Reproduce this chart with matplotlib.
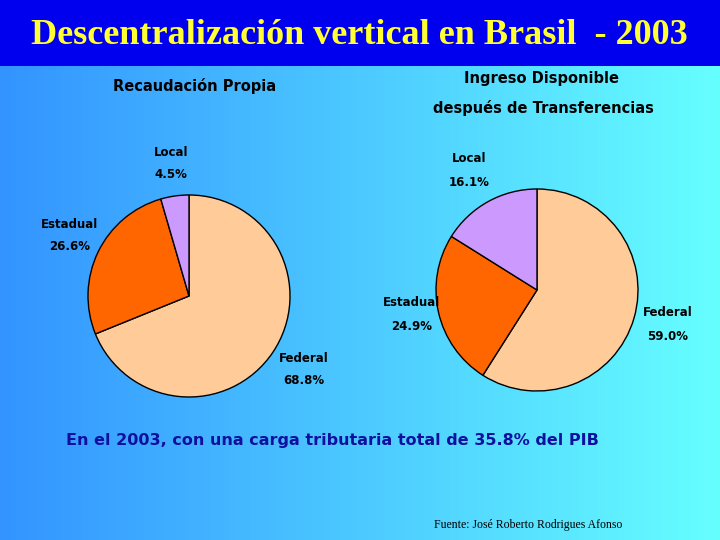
import numpy as np
import matplotlib
matplotlib.use("Agg")
import matplotlib.pyplot as plt
from matplotlib.patches import Rectangle

# ---- data ----
categories = ["Federal", "Estadual", "Local"]
propia_values = [68.8, 26.6, 4.5]
disponible_values = [59.0, 24.9, 16.1]
slice_colors = ["#FFCC99", "#FF6600", "#CC99FF"]
title = "Descentralización vertical en Brasil  - 2003"
subtitle_left = "Recaudación Propia"
subtitle_right = ["Ingreso Disponible", "después de Transferencias"]
note = "En el 2003, con una carga tributaria total de 35.8% del PIB"
source = "Fuente: José Roberto Rodrigues Afonso"

W, H = 720, 540
fig = plt.figure(figsize=(7.2, 5.4), dpi=100)
ax = fig.add_axes([0, 0, 1, 1])

def Y(y):
    return H - y

# background gradient
grad = np.linspace(0, 1, 256)
c0 = np.array([0.20, 0.58, 1.0])
c1 = np.array([0.40, 1.0, 1.0])
img = c0[None, None, :] + (c1 - c0)[None, None, :] * grad[None, :, None]
img = np.repeat(img, 2, axis=0)
ax.imshow(img, extent=(0, W, 0, H), aspect="auto", zorder=0)

# title bar
ax.add_patch(Rectangle((0, Y(66)), W, 66, facecolor="#0000EE", edgecolor="none", zorder=1))
ax.text(359, Y(35), title, ha="center", va="center", color="#FFFF33",
        fontsize=26, fontweight="bold", family="Liberation Serif", zorder=2)

wp = dict(edgecolor="black", linewidth=1)
ax.pie(propia_values, colors=slice_colors, startangle=90, counterclock=False,
       center=(189, Y(296)), radius=101, wedgeprops=wp)
ax.pie(disponible_values, colors=slice_colors, startangle=90, counterclock=False,
       center=(537, Y(290)), radius=101, wedgeprops=wp)

lab_kw = dict(ha="center", va="center", color="black", fontsize=8.5,
              fontweight="bold", family="DejaVu Sans", zorder=3)
left_pos = {"Federal": (304, 359), "Estadual": (70, 224), "Local": (171, 152)}
right_pos = {"Federal": (668, 313), "Estadual": (412, 302), "Local": (469, 158)}
for cat, v in zip(categories, propia_values):
    x, y = left_pos[cat]
    ax.text(x, Y(y), cat, **lab_kw)
    ax.text(x, Y(y + 22), f"{v:.1f}%", **lab_kw)
for cat, v in zip(categories, disponible_values):
    x, y = right_pos[cat]
    ax.text(x, Y(y), cat, **lab_kw)
    ax.text(x, Y(y + 24), f"{v:.1f}%", **lab_kw)

sub_kw = dict(ha="center", va="center", color="black", fontsize=10.5,
              fontweight="bold", family="DejaVu Sans", zorder=3)
ax.text(195, Y(86), subtitle_left, **sub_kw)
ax.text(541, Y(78), subtitle_right[0], **sub_kw)
ax.text(543, Y(108), subtitle_right[1], **sub_kw)

ax.text(332, Y(441), note, ha="center", va="center", color="#1010A0",
        fontsize=11.5, fontweight="bold", family="DejaVu Sans", zorder=3)
ax.text(528, Y(525), source, ha="center", va="center", color="black",
        fontsize=8.5, family="Liberation Serif", zorder=3)

ax.set_xlim(0, W)
ax.set_ylim(0, H)
ax.set_aspect("auto")
ax.axis("off")
fig.savefig("out.png", dpi=100)
